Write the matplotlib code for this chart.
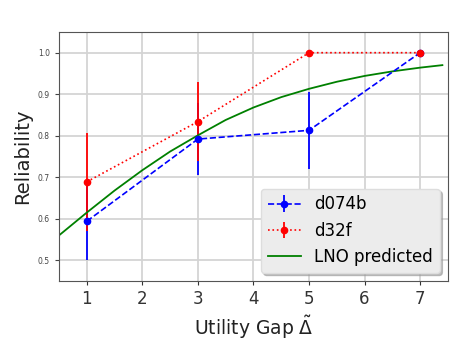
import matplotlib
matplotlib.use("Agg")
import matplotlib.pyplot as plt

# measured points
gap = [1, 3, 5, 7]
d074b = [0.594, 0.792, 0.813, 1.0]
d074b_err = [0.094, 0.087, 0.092, 0.0]
d32f = [0.689, 0.834, 1.0, 1.0]
d32f_err = [0.118, 0.096, 0.0, 0.0]

# LNO prediction curve
lno_x = [0.5, 1.0, 1.5, 2.0, 2.5, 3.0, 3.5, 4.0, 4.5, 5.0, 5.5, 6.0, 6.5, 7.0, 7.4]
lno_y = [0.560, 0.615, 0.668, 0.717, 0.762, 0.801, 0.838, 0.868, 0.893, 0.913,
         0.930, 0.944, 0.955, 0.964, 0.970]

fig = plt.figure(figsize=(4.74, 3.47), dpi=100)
ax = fig.add_axes([0.1245, 0.19, 0.8205, 0.718])

h1 = ax.errorbar(gap, d074b, yerr=d074b_err, fmt='b--o', markersize=4.5, lw=1.2,
                 elinewidth=1.3, label='d074b')
h2 = ax.errorbar(gap, d32f, yerr=d32f_err, fmt='r:o', markersize=4.5, lw=1.2,
                 elinewidth=1.3, label='d32f')
h3, = ax.plot(lno_x, lno_y, color='g', lw=1.3, label='LNO predicted')

ax.set_xlim(0.5, 7.5)
ax.set_ylim(0.45, 1.05)
ax.set_xticks(range(1, 8))
ax.set_yticks([0.5, 0.6, 0.7, 0.8, 0.9, 1.0])
ax.tick_params(axis='x', labelsize=12, colors='#333333', length=3)
ax.tick_params(axis='y', labelsize=5.5, colors='#444444', length=3)
ax.grid(True, color='#d4d4d4', lw=1.3)
ax.set_axisbelow(True)
for s in ax.spines.values():
    s.set_color('#555555')

ax.set_xlabel(r'Utility Gap $\tilde{\Delta}$', fontsize=13.5, color='#222222')
ax.set_ylabel('Reliability', fontsize=14, color='#222222')

leg = ax.legend([h1, h2, h3], ['d074b', 'd32f', 'LNO predicted'],
                loc='lower right', fontsize=12, fancybox=True,
                shadow={'color': '0.6', 'alpha': 0.6},
                facecolor='#ececec', framealpha=1, edgecolor='#dddddd')

fig.savefig('out.png', dpi=100)
